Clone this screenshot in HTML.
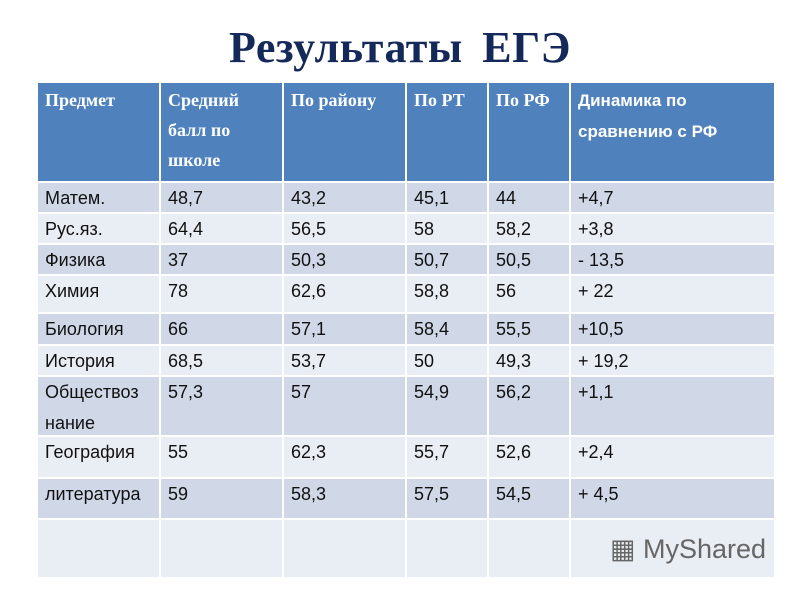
<!DOCTYPE html>
<html><head><meta charset="utf-8">
<style>
body{margin:0;width:800px;height:600px;background:#fff;position:relative;overflow:hidden;font-family:"Liberation Sans","DejaVu Sans",sans-serif}
#title{position:absolute;left:0;width:800px;top:22px;text-align:center;font:bold 44px "Liberation Serif",serif;color:#14285a;letter-spacing:0.5px;word-spacing:8px}
.c{position:absolute;box-sizing:border-box;padding:0 0 0 7px;font-size:18px;color:#111;line-height:31px}
.h{background:#4f81bd;color:#fff;font:bold 18px/30px "Liberation Serif",serif;padding-top:2px}
.h.s{font:bold 17px/31px "Liberation Sans",sans-serif}
#wm{position:absolute;left:610px;top:534px;font-size:27px;color:#666;z-index:5}
</style></head><body>
<div id="title">Результаты ЕГЭ</div>
<div id="wm">&#9638; MyShared</div>
<script>
const headers=["Предмет","Средний<br>балл по<br>школе","По району","По РТ","По РФ","Динамика по<br>сравнению с РФ"];
const subjects=["Матем.","Рус.яз.","Физика","Химия","Биология","История","Обществоз<br>нание","География","литература",""];
const school=["48,7","64,4","37","78","66","68,5","57,3","55","59",""];
const district=["43,2","56,5","50,3","62,6","57,1","53,7","57","62,3","58,3",""];
const rt=["45,1","58","50,7","58,8","58,4","50","54,9","55,7","57,5",""];
const rf=["44","58,2","50,5","56","55,5","49,3","56,2","52,6","54,5",""];
const dyn=["+4,7","+3,8","- 13,5","+ 22","+10,5","+ 19,2","+1,1","+2,4","+ 4,5",""];
const colX=[37,160,283,406,488,570,775];
const rowY=[82,182,213,244,275,313,345,376,436,478,519,578];
function cell(x0,x1,y0,y1,html,cls,bg){
  const d=document.createElement('div');
  d.className='c '+cls;
  d.style.left=(x0+1)+'px';d.style.top=(y0+1)+'px';
  d.style.width=(x1-x0-2)+'px';d.style.height=(y1-y0-2)+'px';
  if(bg)d.style.background=bg;
  d.innerHTML=html;
  document.body.appendChild(d);
  return d;
}
headers.forEach((h,i)=>{
  const d=cell(colX[i],colX[i+1],rowY[0],rowY[1],h,'h'+(i==5?' s':''));
  
  
});
const cols=[subjects,school,district,rt,rf,dyn];
for(let r=0;r<subjects.length;r++){
  const bg=r%2==0?'#d0d8e8':'#e9edf4';
  cols.forEach((col,i)=>{
    const d=cell(colX[i],colX[i+1],rowY[r+1],rowY[r+2],col[r],'',bg);
    
    
  });
}
</script>
</body></html>
